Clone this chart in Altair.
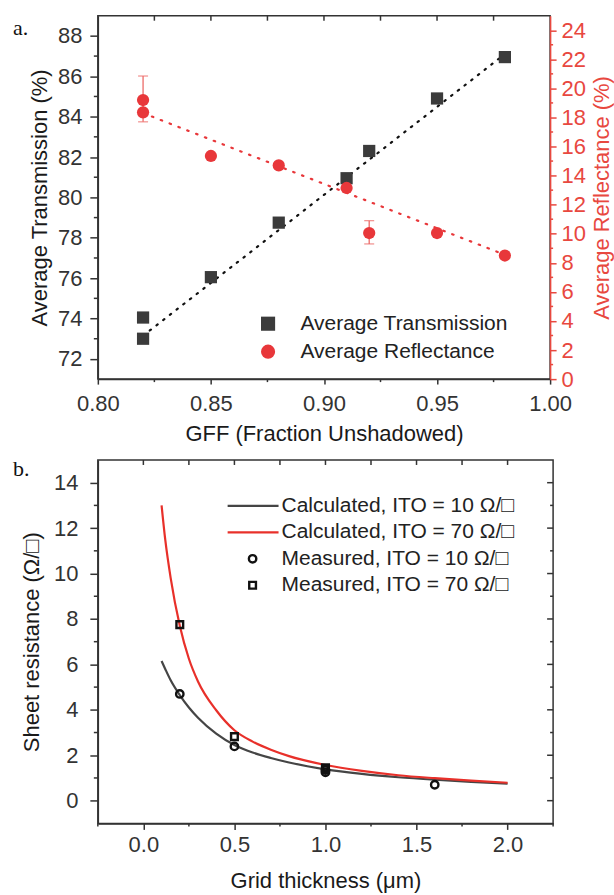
import altair as alt
import pandas as pd

# ---------------- Panel a data ----------------
gff = [0.82, 0.82, 0.85, 0.88, 0.91, 0.92, 0.95, 0.98]
transmission = [74.05, 73.0, 76.05, 78.75, 80.95, 82.3, 84.9, 86.95]
reflectance = [19.2, 18.35, 15.35, 14.7, 13.15, 10.05, 10.05, 8.5]
err_gff = [0.82, 0.92]
err_low = [17.7, 9.3]
err_high = [20.85, 10.9]
fit_gff = [0.82, 0.98]
trans_fit = [73.15, 87.1]
refl_fit = [18.3, 8.55]
series_a = ["Average Transmission", "Average Reflectance"]

gff_ticks = [0.80, 0.85, 0.90, 0.95, 1.00]
gff_minor = [0.825, 0.875, 0.925, 0.975]
gff_top = [0.825, 0.85, 0.875, 0.90, 0.925, 0.95, 0.975]
trans_ticks = [72, 74, 76, 78, 80, 82, 84, 86, 88]
trans_minor = [73, 75, 77, 79, 81, 83, 85, 87]
refl_ticks = [0, 2, 4, 6, 8, 10, 12, 14, 16, 18, 20, 22, 24]
refl_minor = [1, 3, 5, 7, 9, 11, 13, 15, 17, 19, 21, 23]

# ---------------- Panel b data ----------------
thickness = [0.1, 0.12, 0.15, 0.2, 0.25, 0.3, 0.4, 0.5, 0.6, 0.7, 0.8, 1.0, 1.2, 1.4, 1.6, 1.8, 2.0]
calc_10 = [6.15, 5.8, 5.3, 4.65, 4.1, 3.65, 2.95, 2.45, 2.12, 1.88, 1.68, 1.38, 1.18, 1.03, 0.92, 0.83, 0.75]
calc_70 = [13.0, 11.5, 9.8, 7.7, 6.25, 5.25, 3.98, 3.1, 2.6, 2.24, 1.96, 1.57, 1.31, 1.12, 0.99, 0.88, 0.79]
meas10_x = [0.2, 0.5, 1.0, 1.0, 1.6]
meas10_y = [4.7, 2.39, 1.35, 1.25, 0.7]
meas70_x = [0.2, 0.5, 1.0, 1.0]
meas70_y = [7.75, 2.82, 1.45, 1.38]
legend_b = ["Calculated, ITO = 10 \u03a9/\u25a1", "Calculated, ITO = 70 \u03a9/\u25a1",
            "Measured, ITO = 10 \u03a9/\u25a1", "Measured, ITO = 70 \u03a9/\u25a1"]
thick_ticks = [0.0, 0.5, 1.0, 1.5, 2.0]
thick_minor = [-0.25, 0.25, 0.75, 1.25, 1.75, 2.25]
thick_top = [0.0, 0.25, 0.5, 0.75, 1.0, 1.25, 1.5, 1.75, 2.0]
res_ticks = [0, 2, 4, 6, 8, 10, 12, 14]
res_minor = [1, 3, 5, 7, 9, 11, 13]

# ---------------- style ----------------
FONT = "Liberation Sans"
DARK = "#3b3b3b"
RED = "#e8373a"
AXIS = "#333333"
RED_AXIS = "#e8483f"
LINE_DARK = "#454545"
LINE_RED = "#e8302a"
W_A, W_B, H = 453, 456, 364

one = pd.DataFrame({"k": [0]})

common_axis = dict(grid=False, labelFont=FONT, titleFont=FONT, labelFontSize=22,
                   titleFontSize=22, titleFontWeight="normal", domainWidth=1.5,
                   tickWidth=1.5, labelOverlap=False)
dark_axis = dict(domainColor=AXIS, tickColor=AXIS, labelColor="#333333", titleColor="#1a1a1a")

# ================= Panel a =================
xA = alt.Scale(domain=[0.8, 1.0], nice=False, zero=False)
yT = alt.Scale(domain=[71, 89], nice=False, zero=False)
yR = alt.Scale(domain=[0, 25], nice=False, zero=False)

dfT = pd.DataFrame({"gff": gff, "val": transmission, "series": series_a[0]})
dfR = pd.DataFrame({"gff": gff, "val": reflectance, "series": series_a[1]})
dfE = pd.DataFrame({"gff": err_gff, "lo": err_low, "hi": err_high})
dfFitT = pd.DataFrame({"gff": fit_gff, "val": trans_fit})
dfFitR = pd.DataFrame({"gff": fit_gff, "val": refl_fit})

legend_a = alt.Legend(title=None, orient="none", legendX=160, legendY=298,
                      labelFontSize=21, labelFont=FONT, labelColor="#222222",
                      symbolSize=200, rowPadding=6, labelOffset=22, padding=0,
                      labelLimit=400, symbolStrokeWidth=0)
color_a = alt.Color("series:N", scale=alt.Scale(domain=series_a, range=[DARK, RED]), legend=legend_a)
shape_a = alt.Shape("series:N", scale=alt.Scale(domain=series_a, range=["square", "circle"]), legend=legend_a)

x_axis_a = alt.Axis(values=gff_ticks, format=".2f", title="GFF (Fraction Unshadowed)",
                    labelFlush=False, tickSize=5, labelPadding=9,
                    titlePadding=9, **common_axis, **dark_axis)
yT_axis = alt.Axis(values=trans_ticks, format="d", title="Average Transmission (%)",
                   orient="left", tickSize=8, labelPadding=8, titlePadding=6,
                   **common_axis, **dark_axis)
yR_axis = alt.Axis(values=refl_ticks, format="d", title="Average Reflectance (%)",
                   orient="right", tickSize=6, labelPadding=5, titlePadding=6,
                   titleAngle=270, titleBaseline="top",
                   domainColor=RED_AXIS, tickColor=RED_AXIS, labelColor=RED_AXIS,
                   titleColor=RED_AXIS, **common_axis)


def xa(field):
    return alt.X(field, type="quantitative", scale=xA, axis=x_axis_a)


def yt(field):
    return alt.Y(field, type="quantitative", scale=yT, axis=yT_axis)


def yr(field):
    return alt.Y(field, type="quantitative", scale=yR, axis=yR_axis)


fitT = alt.Chart(dfFitT).mark_line(color="#111111", strokeWidth=2.2, strokeDash=[1.5, 7],
                                   strokeCap="round").encode(x=xa("gff"), y=yt("val"))
squares = alt.Chart(dfT).mark_point(filled=True, size=150, opacity=1).encode(
    x=xa("gff"), y=yt("val"), color=color_a, shape=shape_a)
minorT = alt.Chart(pd.DataFrame({"v": trans_minor})).mark_rule(color=AXIS, strokeWidth=1.5).encode(
    y=yt("v"), x=alt.value(-4), x2=alt.value(0))
minorXA = alt.Chart(pd.DataFrame({"v": gff_minor})).mark_rule(color=AXIS, strokeWidth=1.5).encode(
    x=xa("v"), y=alt.value(H), y2=alt.value(H + 3))
topXA = alt.Chart(pd.DataFrame({"v": gff_top})).mark_rule(color=AXIS, strokeWidth=1.5).encode(
    x=xa("v"), y=alt.value(0), y2=alt.value(5))
labelA = alt.Chart(one).mark_text(text="a.", align="left", baseline="alphabetic",
                                  font="Liberation Serif", fontSize=22, color="#111111").encode(
    x=alt.value(-85), y=alt.value(19))

left_a = alt.layer(fitT, squares, minorT, minorXA, topXA, labelA)

fitR = alt.Chart(dfFitR).mark_line(color=RED, strokeWidth=2.2, strokeDash=[1.5, 8],
                                   strokeCap="round").encode(x=xa("gff"), y=yr("val"))
errR = alt.Chart(dfE).mark_rule(color="#ec6b68", strokeWidth=1.3).encode(
    x=xa("gff"), y=yr("lo"), y2="hi:Q")
capLo = alt.Chart(dfE).mark_tick(orient="horizontal", size=10, thickness=1.3, color="#ec6b68").encode(
    x=xa("gff"), y=yr("lo"))
capHi = alt.Chart(dfE).mark_tick(orient="horizontal", size=10, thickness=1.3, color="#ec6b68").encode(
    x=xa("gff"), y=yr("hi"))
circles = alt.Chart(dfR).mark_point(filled=True, size=150, opacity=1).encode(
    x=xa("gff"), y=yr("val"), color=color_a, shape=shape_a)
minorR = alt.Chart(pd.DataFrame({"v": refl_minor})).mark_rule(color=RED_AXIS, strokeWidth=1.5).encode(
    y=yr("v"), x=alt.value(W_A), x2=alt.value(W_A + 3))

right_a = alt.layer(fitR, errR, capLo, capHi, circles, minorR)

panel_a = alt.layer(left_a, right_a).resolve_scale(y="independent").properties(width=W_A, height=H)

# ================= Panel b =================
xB = alt.Scale(domain=[-0.25, 2.25], nice=False, zero=False)
yB = alt.Scale(domain=[-1, 15], nice=False, zero=False)

x_axis_b = alt.Axis(values=thick_ticks, format=".1f", title="Grid thickness (\u03bcm)",
                    labelFlush=False, tickSize=6, labelPadding=5,
                    titlePadding=15, **common_axis, **dark_axis)
y_axis_b = alt.Axis(values=res_ticks, format="d", title="Sheet resistance (\u03a9/\u25a1)",
                    tickSize=8, labelPadding=12, titlePadding=10, **common_axis, **dark_axis)


def xb(field):
    return alt.X(field, type="quantitative", scale=xB, axis=x_axis_b)


def yb(field):
    return alt.Y(field, type="quantitative", scale=yB, axis=y_axis_b)


df10 = pd.DataFrame({"t": thickness, "r": calc_10})
df70 = pd.DataFrame({"t": thickness, "r": calc_70})
dfM10 = pd.DataFrame({"t": meas10_x, "r": meas10_y})
dfM70 = pd.DataFrame({"t": meas70_x, "r": meas70_y})

curve10 = alt.Chart(df10).mark_line(color=LINE_DARK, strokeWidth=2.2, interpolate="monotone").encode(
    x=xb("t"), y=yb("r"))
curve70 = alt.Chart(df70).mark_line(color=LINE_RED, strokeWidth=2.2, interpolate="monotone").encode(
    x=xb("t"), y=yb("r"))
m10 = alt.Chart(dfM10).mark_point(shape="circle", filled=False, color="#111111", strokeWidth=2.4,
                                  size=55, opacity=1).encode(x=xb("t"), y=yb("r"))
m70 = alt.Chart(dfM70).mark_point(shape="square", filled=False, color="#111111", strokeWidth=2.4,
                                  size=45, opacity=1).encode(x=xb("t"), y=yb("r"))

minorYB = alt.Chart(pd.DataFrame({"v": res_minor})).mark_rule(color=AXIS, strokeWidth=1.5).encode(
    y=yb("v"), x=alt.value(-4), x2=alt.value(0))
minorXB = alt.Chart(pd.DataFrame({"v": thick_minor})).mark_rule(color=AXIS, strokeWidth=1.5).encode(
    x=xb("v"), y=alt.value(H), y2=alt.value(H + 3))
topXB = alt.Chart(pd.DataFrame({"v": thick_top})).mark_rule(color=AXIS, strokeWidth=1.5).encode(
    x=xb("v"), y=alt.value(0), y2=alt.value(5))
rightMajB = alt.Chart(pd.DataFrame({"v": res_ticks})).mark_rule(color=AXIS, strokeWidth=1.5).encode(
    y=yb("v"), x=alt.value(W_B - 6), x2=alt.value(W_B))
rightMinB = alt.Chart(pd.DataFrame({"v": res_minor})).mark_rule(color=AXIS, strokeWidth=1.5).encode(
    y=yb("v"), x=alt.value(W_B - 3), x2=alt.value(W_B))

labelB = alt.Chart(one).mark_text(text="b.", align="left", baseline="alphabetic",
                                  font="Liberation Serif", fontSize=22, color="#111111").encode(
    x=alt.value(-85), y=alt.value(16))

row_y = [46, 72.5, 99, 125.5]
leg_layers = []
leg_layers.append(alt.Chart(one).mark_rule(color=LINE_DARK, strokeWidth=2.2).encode(
    x=alt.value(130), x2=alt.value(181), y=alt.value(row_y[0])))
leg_layers.append(alt.Chart(one).mark_rule(color=LINE_RED, strokeWidth=2.2).encode(
    x=alt.value(130), x2=alt.value(181), y=alt.value(row_y[1])))
leg_layers.append(alt.Chart(one).mark_point(shape="circle", filled=False, color="#111111",
                                            strokeWidth=2.4, size=55, opacity=1).encode(
    x=alt.value(155), y=alt.value(row_y[2])))
leg_layers.append(alt.Chart(one).mark_point(shape="square", filled=False, color="#111111",
                                            strokeWidth=2.4, size=45, opacity=1).encode(
    x=alt.value(155), y=alt.value(row_y[3])))
for i, lab in enumerate(legend_b):
    leg_layers.append(alt.Chart(one).mark_text(text=lab, align="left", baseline="middle",
                                               font=FONT, fontSize=21, color="#222222").encode(
        x=alt.value(184), y=alt.value(row_y[i])))

panel_b = alt.layer(curve10, curve70, m10, m70, minorYB, minorXB, topXB, rightMajB, rightMinB,
                    labelB, *leg_layers).properties(width=W_B, height=H)

chart = alt.vconcat(panel_a, panel_b, spacing=12).properties(
    padding={"left": 12, "top": 13, "right": 0, "bottom": 0}
).configure_view(
    stroke=AXIS, strokeWidth=1.5
)

chart.save("out.html", embed_options={"renderer": "svg", "actions": False})
